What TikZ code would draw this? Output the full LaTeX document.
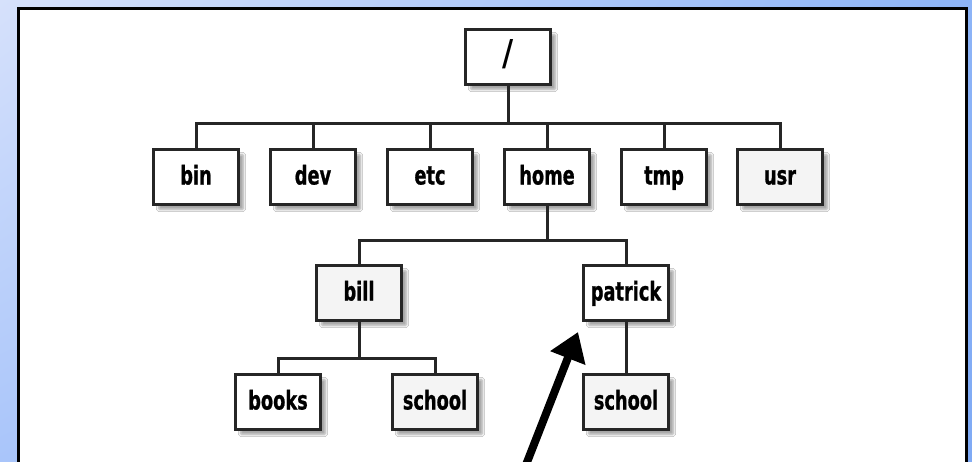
\documentclass[tikz,border=0pt]{standalone}
\usepackage{fontspec}
\setmainfont{DejaVu Sans Condensed}[BoldFeatures={FakeStretch=0.76, FakeBold=0.8}]
\newfontfamily\slashfont{Liberation Sans}
\usetikzlibrary{arrows.meta,shadows.blur,shadings}
\definecolor{boxgray}{HTML}{F4F4F4}
\definecolor{bgul}{HTML}{D6E1FB}
\definecolor{bgur}{HTML}{8DB4F7}
\definecolor{bgll}{HTML}{A9C5FA}
\definecolor{bglr}{HTML}{7FAAF5}
\tikzset{
  dirbox/.style={draw=black!85, line width=3.2pt, fill=white, minimum width=85pt, minimum height=55pt,
    inner sep=0pt, text height=18pt, text depth=3pt, font=\bfseries\fontsize{26}{28}\selectfont,
    blur shadow={shadow xshift=5pt, shadow yshift=-5pt, shadow blur steps=6, shadow blur extra rounding=1pt, shadow opacity=35}},
  graybox/.style={dirbox, fill=boxgray},
  rootbox/.style={dirbox, font=\slashfont\fontsize{40}{40}\selectfont, text height=28pt, text depth=6pt},
  link/.style={draw=black!85, line width=3pt},
  bigarrow/.style={line width=8pt, -{Triangle[length=28pt,width=36pt]}}
}
\begin{document}
\begin{tikzpicture}[x=1pt,y=-1pt]
\useasboundingbox (0,0) rectangle (972,461);
\shade[upper left=bgul, upper right=bgur, lower left=bgll, lower right=bglr] (0,0) rectangle (972,461);
\draw[line width=3pt, fill=white] (18,8) rectangle (966,480);

\node[rootbox] (root) at (508,57) {/};
\node[dirbox] (bin) at (196,177) {bin};
\node[dirbox] (dev) at (313,177) {dev};
\node[dirbox] (etc) at (430,177) {etc};
\node[dirbox] (home) at (547,177) {home};
\node[dirbox] (tmp) at (664,177) {tmp};
\node[graybox] (usr) at (780,177) {usr};
\node[graybox] (bill) at (359,293) {bill};
\node[dirbox] (patrick) at (626,293) {patrick};
\node[dirbox] (books) at (278,402) {books};
\node[graybox] (bschool) at (435,402) {school};
\node[graybox] (pschool) at (626,402) {school};

\coordinate (b1) at (508,123);
\coordinate (b2) at (547,240);
\coordinate (b3) at (359,358);
\draw[link] (root.south) -- (b1);
\foreach \n in {bin,dev,etc,home,tmp,usr} {\draw[link] (\n.north) |- (b1);}
\draw[link] (home.south) -- (b2);
\draw[link] (bill.north) |- (b2);
\draw[link] (patrick.north) |- (b2);
\draw[link] (bill.south) -- (b3);
\draw[link] (books.north) |- (b3);
\draw[link] (bschool.north) |- (b3);
\draw[link] (patrick.south) -- (pschool.north);

\coordinate (astart) at (522,475);
\coordinate (atip) at (578,332);
\draw[bigarrow] (astart) -- (atip);
\end{tikzpicture}
\end{document}
